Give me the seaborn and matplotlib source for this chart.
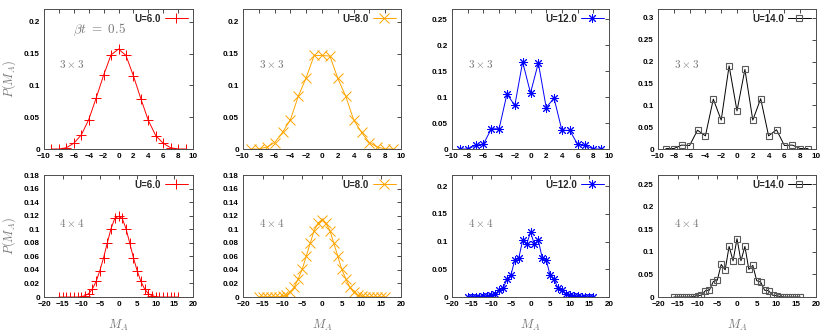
import numpy as np
import matplotlib
matplotlib.use("Agg")
import matplotlib.pyplot as plt
from matplotlib.lines import Line2D
import seaborn as sns

# 3x3 lattice, M_A from -9 to 9
m_3x3 = [-9, -8, -7, -6, -5, -4, -3, -2, -1, 0, 1, 2, 3, 4, 5, 6, 7, 8, 9]
p_3x3_u6 = [0.0, 0.0, 0.002, 0.009, 0.022, 0.046, 0.080, 0.116, 0.148, 0.157,
            0.147, 0.115, 0.079, 0.045, 0.021, 0.009, 0.002, 0.0, 0.0]
p_3x3_u8 = [0.0, 0.0, 0.003, 0.010, 0.026, 0.046, 0.083, 0.112, 0.147, 0.147,
            0.146, 0.111, 0.083, 0.046, 0.026, 0.010, 0.003, 0.0, 0.0]
p_3x3_u12 = [0.0, 0.0, 0.007, 0.009, 0.039, 0.039, 0.106, 0.084, 0.168, 0.108,
             0.166, 0.080, 0.098, 0.036, 0.036, 0.009, 0.007, 0.0, 0.0]
p_3x3_u14 = [0.001, 0.001, 0.009, 0.008, 0.043, 0.030, 0.114, 0.066, 0.190, 0.087,
             0.182, 0.066, 0.115, 0.030, 0.044, 0.008, 0.009, 0.001, 0.001]

# 4x4 lattice, M_A from -16 to 16
m_4x4 = [-16, -15, -14, -13, -12, -11, -10, -9, -8, -7, -6, -5, -4, -3, -2, -1, 0,
         1, 2, 3, 4, 5, 6, 7, 8, 9, 10, 11, 12, 13, 14, 15, 16]
p_4x4_u6 = [0.0, 0.0, 0.0, 0.0, 0.0, 0.0, 0.0005, 0.002, 0.005, 0.012, 0.023, 0.039,
            0.058, 0.080, 0.101, 0.116, 0.119, 0.116, 0.101, 0.080, 0.058, 0.039,
            0.023, 0.012, 0.005, 0.002, 0.0005, 0.0, 0.0, 0.0, 0.0, 0.0, 0.0]
p_4x4_u8 = [0.0, 0.0, 0.0, 0.0, 0.0, 0.0, 0.001, 0.003, 0.007, 0.015, 0.027, 0.041,
            0.060, 0.079, 0.098, 0.109, 0.114, 0.109, 0.098, 0.079, 0.060, 0.041,
            0.027, 0.015, 0.007, 0.003, 0.001, 0.0, 0.0, 0.0, 0.0, 0.0, 0.0]
p_4x4_u12 = [0.0, 0.0, 0.0, 0.0, 0.001, 0.001, 0.004, 0.005, 0.012, 0.016, 0.032, 0.039,
             0.067, 0.070, 0.102, 0.095, 0.117, 0.095, 0.102, 0.070, 0.067, 0.039,
             0.032, 0.016, 0.012, 0.005, 0.004, 0.001, 0.001, 0.0, 0.0, 0.0, 0.0]
p_4x4_u14 = [0.0, 0.0, 0.0, 0.0, 0.0, 0.001, 0.003, 0.004, 0.014, 0.015, 0.034, 0.037,
             0.072, 0.060, 0.112, 0.080, 0.129, 0.080, 0.112, 0.061, 0.070, 0.036,
             0.033, 0.015, 0.014, 0.004, 0.003, 0.001, 0.0, 0.0, 0.0, 0.0, 0.0]

labels_u = ["U=6.0", "U=8.0", "U=12.0", "U=14.0"]
colors = ["#ff0000", "#ffa500", "#0000ff", "#000000"]
markers = ["+", "x", (8, 2, 0), "s"]

sns.set_style("white")
plt.rcParams["font.family"] = ["Liberation Sans", "DejaVu Sans"]
plt.rcParams["mathtext.fontset"] = "cm"

fig = plt.figure(figsize=(8.3, 3.32), dpi=100)
W, H = 830.0, 332.0
cols = [(44, 193), (243, 401), (452, 609), (658, 816)]
rows = [(9, 149), (175, 297)]

top_data = [p_3x3_u6, p_3x3_u8, p_3x3_u12, p_3x3_u14]
bot_data = [p_4x4_u6, p_4x4_u8, p_4x4_u12, p_4x4_u14]
top_ylim = [0.22, 0.22, 0.27, 0.32]
bot_ylim = [0.18, 0.18, 0.22, 0.27]
top_ystep = [0.05, 0.05, 0.05, 0.05]
bot_ystep = [0.02, 0.02, 0.05, 0.05]

gray = "#777777"

for r, (y0, y1) in enumerate(rows):
    for c, (x0, x1) in enumerate(cols):
        ax = fig.add_axes([x0 / W, (H - y1) / H, (x1 - x0) / W, (y1 - y0) / H])
        if r == 0:
            xs, ys = m_3x3, top_data[c]
            ymax, ystep = top_ylim[c], top_ystep[c]
            ax.set_xlim(-10, 10)
            ax.set_xticks(range(-10, 11, 2))
            size_txt = r"$3\times3$"
        else:
            xs, ys = m_4x4, bot_data[c]
            ymax, ystep = bot_ylim[c], bot_ystep[c]
            ax.set_xlim(-20, 20)
            ax.set_xticks(range(-20, 21, 5))
            size_txt = r"$4\times4$"
        col = colors[c]
        mk = markers[c]
        if c == 3:
            mkw = dict(markerfacecolor="none", markeredgecolor="0.35", markersize=5,
                       markeredgewidth=0.8)
        else:
            mkw = dict(markeredgecolor=col, markersize=6.5, markeredgewidth=0.7)
        sns.lineplot(x=xs, y=ys, ax=ax, color=col, lw=0.7, marker=mk, **mkw)
        ax.set_ylim(0, ymax)
        yt = np.arange(0, ymax + 1e-9, ystep)
        ax.set_yticks(yt)
        ax.set_yticklabels(["0"] + ["%g" % round(v, 3) for v in yt[1:]])
        ax.tick_params(direction="in", length=3, width=0.5, labelsize=5.8, pad=3,
                       top=True, right=True, colors="black")
        for lab in ax.get_xticklabels() + ax.get_yticklabels():
            lab.set_fontweight("bold")
        for s in ax.spines.values():
            s.set_color("0.3")
            s.set_linewidth(0.7)
            s.set_visible(True)
        h = Line2D([0], [0], color=col, lw=0.7, marker=mk, **mkw)
        ax.legend(handles=[h], labels=[labels_u[c]], loc="upper right", frameon=False,
                  markerfirst=False, handlelength=2.4, borderaxespad=0.1,
                  handletextpad=0.4, prop={"weight": "bold", "size": 7})
        ax.text(0.1, 0.607, size_txt, transform=ax.transAxes, color=gray,
                fontsize=8, va="center", ha="left")
        if r == 0 and c == 0:
            ax.text(0.195, 0.85, r"$\beta t\ =\ 0.5$", transform=ax.transAxes,
                    color=gray, fontsize=9.5, va="center", ha="left")
        if c == 0:
            ax.set_ylabel(r"$P(M_A)$", color=gray, fontsize=9, labelpad=4)
        if r == 1:
            ax.set_xlabel(r"$M_A$", color=gray, fontsize=9, labelpad=7)

fig.savefig("out.png", dpi=100)
